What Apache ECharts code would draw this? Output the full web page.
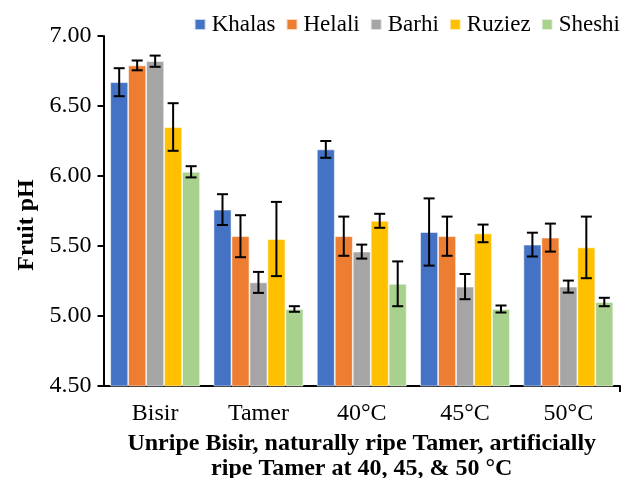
<!DOCTYPE html>
<html>
<head>
<meta charset="utf-8">
<script src="https://cdn.jsdelivr.net/npm/echarts@6/dist/echarts.min.js"></script>
<style>html,body{margin:0;padding:0;background:#fff}#c{width:629px;height:478px}</style>
</head>
<body>
<div id="c"></div>
<script>
var categories = ['Bisir', 'Tamer', '40°C', '45°C', '50°C'];
var seriesNames = ['Khalas', 'Helali', 'Barhi', 'Ruziez', 'Sheshi'];
var colors = ['#4472C4', '#ED7D31', '#A5A5A5', '#FFC000', '#A9D18E'];
var khalas = [6.67, 5.76, 6.19, 5.60, 5.51];
var helali = [6.79, 5.57, 5.57, 5.57, 5.56];
var barhi  = [6.82, 5.24, 5.46, 5.21, 5.21];
var ruziez = [6.35, 5.55, 5.68, 5.59, 5.49];
var sheshi = [6.03, 5.05, 5.23, 5.05, 5.10];
var khalasErr = [0.10, 0.11, 0.06, 0.24, 0.085];
var helaliErr = [0.035, 0.15, 0.14, 0.14, 0.10];
var barhiErr  = [0.04, 0.075, 0.05, 0.09, 0.043];
var ruziezErr = [0.17, 0.265, 0.05, 0.063, 0.22];
var sheshiErr = [0.04, 0.02, 0.16, 0.025, 0.03];
var yTicks = [4.5, 5.0, 5.5, 6.0, 6.5, 7.0];

var values = [khalas, helali, barhi, ruziez, sheshi];
var errs = [khalasErr, helaliErr, barhiErr, ruziezErr, sheshiErr];
var GAP = 0.13;
var FONT = '"Liberation Serif", "Times New Roman", serif';

var series = [];
seriesNames.forEach(function (name, i) {
  series.push({
    name: name, type: 'bar', data: values[i],
    barGap: '0%', barCategoryGap: (GAP * 100) + '%',
    itemStyle: { color: colors[i], borderColor: 'rgba(255,255,255,0.7)', borderWidth: 0.8 }
  });
});
seriesNames.forEach(function (name, i) {
  series.push({
    name: name + ' err', type: 'custom', z: 5,
    encode: { x: 0, y: 1 },
    data: values[i].map(function (v, k) { return [k, v, errs[i][k]]; }),
    renderItem: function (params, api) {
      var x = api.value(0), v = api.value(1), e = api.value(2);
      var hi = api.coord([x, v + e]);
      var lo = api.coord([x, v - e]);
      var catW = api.size([1, 0])[0];
      var groupW = catW * (1 - GAP);
      var barW = groupW / 5;
      var off = -groupW / 2 + barW * (i + 0.5);
      var cx = hi[0] + off;
      var cap = 5.5;
      var st = { stroke: '#000', lineWidth: 2 };
      return { type: 'group', children: [
        { type: 'line', shape: { x1: cx, y1: hi[1], x2: cx, y2: lo[1] }, style: st },
        { type: 'line', shape: { x1: cx - cap, y1: hi[1], x2: cx + cap, y2: hi[1] }, style: st },
        { type: 'line', shape: { x1: cx - cap, y1: lo[1], x2: cx + cap, y2: lo[1] }, style: st }
      ]};
    }
  });
});

var chart = echarts.init(document.getElementById('c'));
chart.setOption({
  animation: false,
  textStyle: { fontFamily: FONT },
  legend: {
    data: seriesNames, right: 4, top: 8,
    itemWidth: 11, itemHeight: 11, itemGap: 10,
    icon: 'rect',
    textStyle: { fontFamily: FONT, fontSize: 23, color: '#000', padding: [0, 0, 0, 1] }
  },
  grid: { left: 103.5, right: 9, top: 36, bottom: 92, containLabel: false, outerBoundsMode: 'none' },
  xAxis: [{
    type: 'category', data: categories,
    axisLine: { lineStyle: { color: '#000', width: 2 } },
    axisTick: { alignWithLabel: true, length: 6, lineStyle: { color: '#000', width: 2 } },
    axisLabel: { fontFamily: FONT, fontSize: 24, color: '#000', margin: 16 },
    name: 'Unripe Bisir, naturally ripe Tamer, artificially\nripe Tamer at 40, 45, & 50 °C',
    nameLocation: 'middle', nameGap: 41,
    nameTextStyle: { fontFamily: FONT, fontSize: 24, fontWeight: 'bold', color: '#000', lineHeight: 25 }
  }, {
    type: 'value', min: 0, max: categories.length, position: 'bottom',
    splitLine: { show: false },
    axisLine: { show: false },
    axisLabel: { show: false },
    axisTick: { show: true, length: 6, lineStyle: { color: '#000', width: 2 },
      customValues: [categories.length] }
  }],
  yAxis: {
    type: 'value', min: yTicks[0], max: yTicks[yTicks.length - 1], interval: 0.5,
    splitLine: { show: false },
    axisLine: { show: true, lineStyle: { color: '#000', width: 2 } },
    axisTick: { show: true, length: 6, lineStyle: { color: '#000', width: 2 } },
    axisLabel: { fontFamily: FONT, fontSize: 24, color: '#000', margin: 12,
      formatter: function (v) { return v.toFixed(2); } },
    name: 'Fruit pH', nameLocation: 'middle', nameGap: 63,
    nameTextStyle: { fontFamily: FONT, fontSize: 24, fontWeight: 'bold', color: '#000', padding: [0, 28, 0, 0] }
  },
  series: series
});
</script>
</body>
</html>
